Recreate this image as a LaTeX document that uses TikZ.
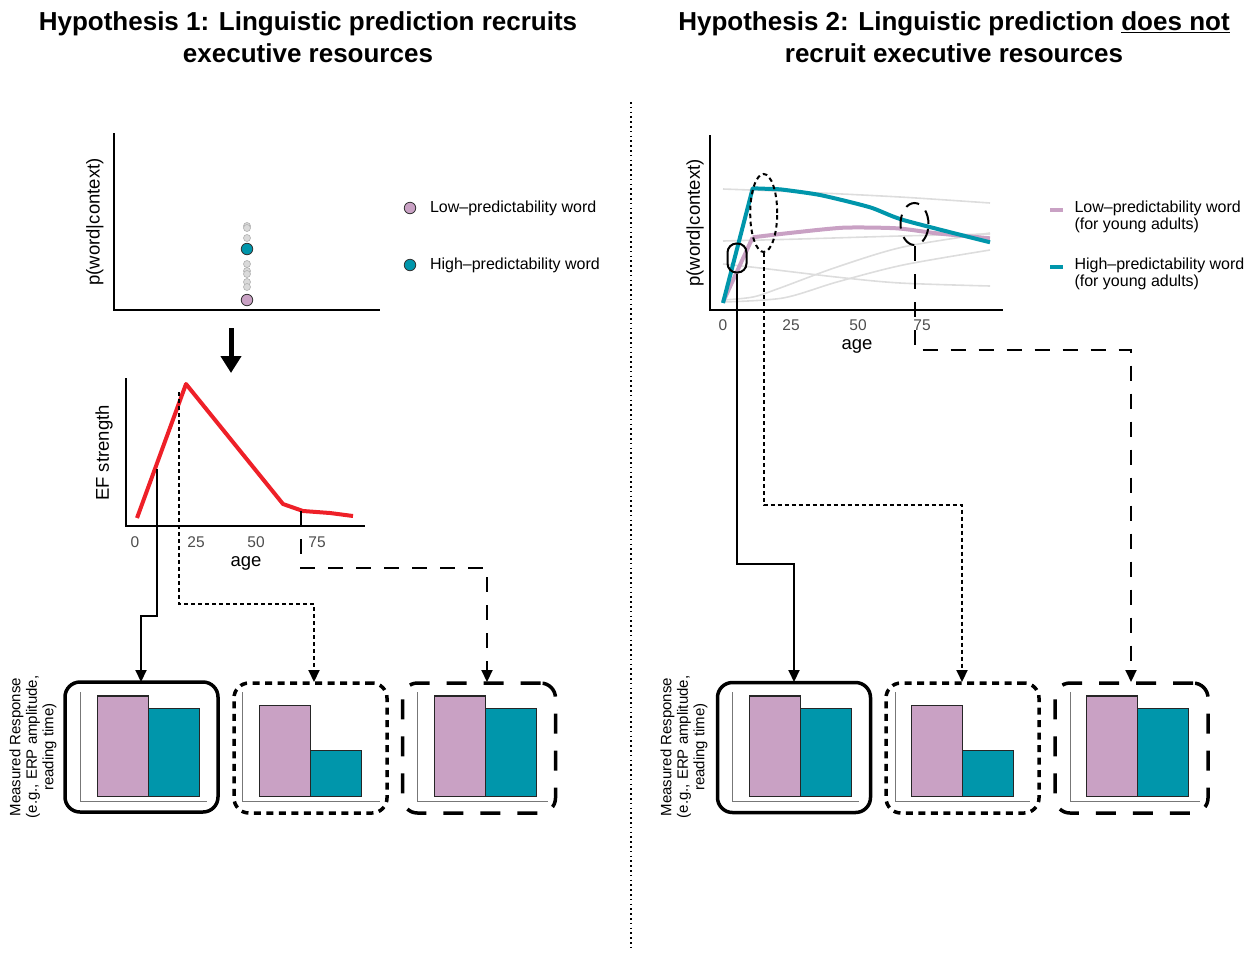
\documentclass[tikz,border=0pt]{standalone}
\usepackage{fontspec}
\setmainfont{Liberation Sans}
\usetikzlibrary{shapes.geometric,arrows.meta}
\definecolor{pinkc}{HTML}{C9A1C4}
\definecolor{tealc}{HTML}{0096AB}
\definecolor{redc}{HTML}{EE2028}
\definecolor{grayline}{HTML}{DDDDDD}
\definecolor{dotfill}{HTML}{DADADA}
\definecolor{dotedge}{HTML}{B0B0B0}
\definecolor{tickgray}{HTML}{4D4D4D}
\definecolor{axgray}{HTML}{777777}
\newcommand{\barset}[5]{%
  \draw[axgray, line width=0.8pt] (#1,692) -- (#1,801.7) -- (#5,801.7);
  \draw[barline, fill=pinkc] (#2,796.7) rectangle ({#2+51},#3);
  \draw[barline, fill=tealc] ({#2+51},796.7) rectangle ({#2+102},#4);
}
\begin{document}
\begin{tikzpicture}[x=1pt,y=-1pt,
  boxbase/.style={draw, line width=3.5pt, rounded corners=15pt, minimum width=153pt, minimum height=130pt, inner sep=0pt},
  solidbox/.style={boxbase},
  dotbox/.style={boxbase, dash pattern=on 7pt off 5.5pt},
  dashbox/.style={boxbase, dash pattern=on 20pt off 17pt},
  conn/.style={line width=2pt, -{Triangle[length=12pt,width=11pt]}},
  dotconn/.style={conn, dash pattern=on 4pt off 3pt},
  dashconn/.style={conn, dash pattern=on 15pt off 13pt},
  barline/.style={draw=black!85, line width=1.2pt},
  axisl/.style={line width=2pt},
  graydot/.style={circle, fill=dotfill, draw=dotedge, line width=0.6pt, minimum size=7pt, inner sep=0pt},
  bigdot/.style={circle, draw=black!80, line width=0.8pt, minimum size=11.5pt, inner sep=0pt},
  grayl/.style={grayline, line width=1.6pt},
  titlef/.style={font=\fontsize{26}{32}\selectfont\bfseries, align=center},
  legf/.style={font=\fontsize{16}{17}\selectfont, anchor=west, align=left},
  axt/.style={font=\fontsize{18.5}{20}\selectfont},
  tickf/.style={font=\fontsize{15.5}{18}\selectfont, text=tickgray},
  mrf/.style={font=\fontsize{15}{16.5}\selectfont, align=center, rotate=90}
]
\useasboundingbox (0,0) rectangle (1255,954);

% titles
\node[titlef] (t1) at (308,37) {Hypothesis 1: Linguistic prediction recruits\\executive resources};
\node[titlef] (t2) at (954,37) {Hypothesis 2: Linguistic prediction \underline{does not}\\recruit executive resources};

% divider
\coordinate (d1) at (631,102);
\coordinate (d2) at (631,950);
\draw[line width=1.6pt, dash pattern=on 1.6pt off 3.2pt] (d1) -- (d2);

% ===== left top dot plot =====
\draw[axisl] (114,133) -- (114,310) -- (380,310);
\node[axt, rotate=90] (lyl) at (95,222) {p(word|context)};
\foreach \yy in {226,228,238,264,271,274,282,287}
  \node[graydot] at (247,\yy) {};
\node[bigdot, fill=tealc] (hd) at (247,249) {};
\node[bigdot, fill=pinkc] (ld) at (247,300) {};
% legend left
\node[bigdot, fill=pinkc] (lgl1) at (410,208) {};
\node[legf] (lgt1) at (426.5,208) {Low--predictability word};
\node[bigdot, fill=tealc] (lgl2) at (410,265) {};
\node[legf] (lgt2) at (426.5,265) {High--predictability word};

% big arrow
\coordinate (ba1) at (231,328);
\coordinate (ba2) at (231,373);
\draw[line width=5pt, -{Triangle[length=17pt,width=20pt]}] (ba1) -- (ba2);

% ===== EF plot =====
\draw[axisl] (126,378) -- (126,526) -- (365,526);
\node[axt, rotate=90] (efl) at (104,453) {EF strength};
\node[tickf] at (135,542) {0};
\node[tickf] at (196,542) {25};
\node[tickf] at (256,542) {50};
\node[tickf] at (317,542) {75};
\node[axt] (agel) at (246,563) {age};
\draw[redc, line width=4pt, line join=round] (137,518) -- (186,384) -- (283,504) -- (303,511) -- (330,513) -- (353,516);

% boxes left
\node[solidbox] (b1) at (141.5,747) {};
\node[dotbox] (b2) at (310.5,748) {};
\node[dashbox] (b3) at (479,748) {};
\barset{80}{97.3}{696}{708.3}{207}
\barset{242}{259.3}{705.7}{750.7}{380}
\barset{417.3}{434.3}{696}{708.3}{548}
\node[mrf] (mr1) at (33,747) {Measured Response\\(e.g., ERP amplitude,\\reading time)};

% connectors left
\coordinate (s1) at (157,469);
\coordinate (s2) at (179,392);
\coordinate (s3) at (301,511);
\coordinate (a1) at (141,682);
\coordinate (a2) at (314,682);
\coordinate (a3) at (487,682);
\draw[conn] (s1) -- ++(0,147) -| (a1);
\draw[dotconn] (s2) -- ++(0,212) -| (a2);
\draw[dashconn] (s3) -- ++(0,57) -| (a3);

% ===== right plot =====
\draw[grayl] plot[smooth] coordinates {(723,189) (800,192) (900,197) (990,203)};
\draw[grayl] plot[smooth] coordinates {(723,241) (800,239) (900,236) (990,234)};
\draw[grayl] plot[smooth] coordinates {(723,264) (760,268) (836,277) (900,283) (990,286)};
\draw[grayl] plot[smooth] coordinates {(723,300) (753,297) (780,288) (837,267) (903,247) (990,233)};
\draw[grayl] plot[smooth] coordinates {(723,302) (783,298) (837,282) (903,265) (990,250)};
\draw[pinkc, line width=4pt, line join=round] (723,302) -- (752.7,237.3) plot[smooth, tension=0.4] coordinates {(752.7,237.3) (786.7,233.3) (843.3,227.7) (896.7,228.3) (936.7,233.3) (990,238.3)};
\draw[tealc, line width=4pt, line join=round] (723,303) -- (752.7,188.3) -- (780,189.3) plot[smooth, tension=0.4] coordinates {(780,189.3) (820,195) (870,207.3) (903.3,220) (990,242.3)};
\draw[axisl] (710,135) -- (710,310) -- (1003,310);
\node[axt, rotate=90] (ryl) at (695,223) {p(word|context)};
\node[tickf] at (723,325) {0};
\node[tickf] at (791,325) {25};
\node[tickf] at (858,325) {50};
\node[tickf] at (922,325) {75};
\node[axt] (ager) at (857,346) {age};

% highlight shapes
\node[draw, line width=2pt, rounded corners=9pt, minimum width=19pt, minimum height=29pt, inner sep=0pt] (e1) at (737,258) {};
\node[draw, ellipse, line width=2pt, dash pattern=on 4.5pt off 3.5pt, minimum width=27pt, minimum height=78pt, inner sep=0pt] (e2) at (763.7,213) {};
\node[draw, ellipse, line width=2pt, dash pattern=on 14pt off 9pt, minimum width=28pt, minimum height=42pt, inner sep=0pt] (e3) at (914.5,224) {};

% legend right
\coordinate (rl1a) at (1050,209.5);
\coordinate (rl1b) at (1063,209.5);
\draw[pinkc, line width=4pt] (rl1a) -- (rl1b);
\node[legf] (rlt1) at (1071,217) {Low--predictability word\\(for young adults)};
\coordinate (rl2a) at (1050,266.5);
\coordinate (rl2b) at (1063,266.5);
\draw[tealc, line width=4pt] (rl2a) -- (rl2b);
\node[legf] (rlt2) at (1071,274) {High--predictability word\\(for young adults)};

% boxes right
\node[solidbox] (b4) at (794,747.5) {};
\node[dotbox] (b5) at (962.5,748) {};
\node[dashbox] (b6) at (1131.5,748) {};
\barset{732.3}{749.3}{696}{708.3}{859}
\barset{895}{911.7}{705.7}{750.7}{1030}
\barset{1070}{1086.7}{696}{708.3}{1200}
\node[mrf] (mr2) at (684,747) {Measured Response\\(e.g., ERP amplitude,\\reading time)};

% connectors right
\coordinate (a4) at (794,682);
\coordinate (a5) at (962,682);
\coordinate (a6) at (1131,682);
\draw[conn] (e1.south) -- ++(0,290.5) -| (a4);
\draw[dotconn] (e2.south) -- ++(0,252) -| (a5);
\draw[dashconn] (e3.south) -- ++(0,104) -| (a6);
\end{tikzpicture}
\end{document}
